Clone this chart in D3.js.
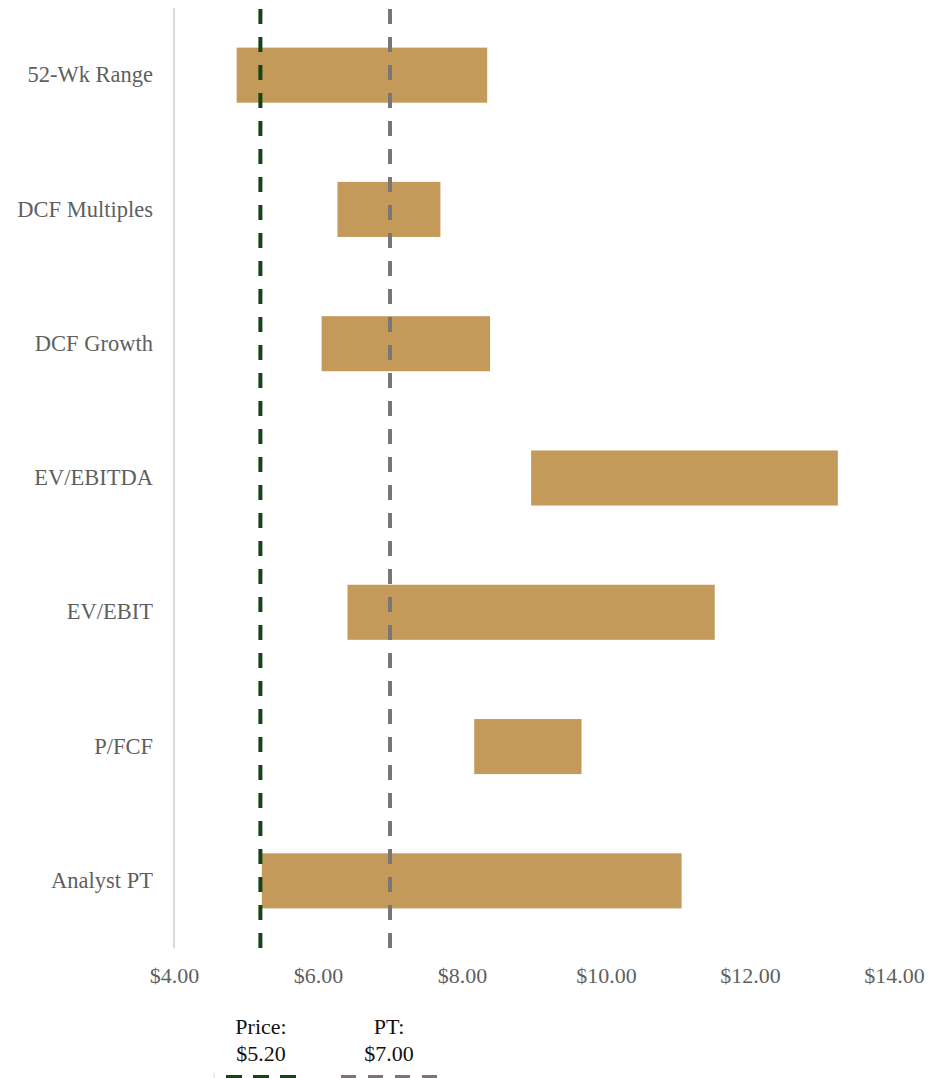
<!DOCTYPE html>
<html>
<head>
<meta charset="utf-8">
<script src="https://cdn.jsdelivr.net/npm/d3@7"></script>
<style>
  html, body { margin: 0; padding: 0; background: #fff; }
  svg { display: block; }
  text { font-family: "Liberation Serif", "Times New Roman", serif; }
</style>
</head>
<body>
<svg id="chart" width="930" height="1078"></svg>
<script>
// Valuation ranges (low / high per method)
const categories = ["52-Wk Range", "DCF Multiples", "DCF Growth", "EV/EBITDA", "EV/EBIT", "P/FCF", "Analyst PT"];
const lowValues  = [4.87, 6.27, 6.05, 8.96, 6.41, 8.17, 5.22];
const highValues = [8.35, 7.70, 8.39, 13.22, 11.51, 9.66, 11.05];

// Reference lines
const currentPrice = 5.20;
const priceTarget = 7.00;

// Axis ticks
const xTicks = [4, 6, 8, 10, 12, 14];

const svg = d3.select("#chart");
const serif = "'Liberation Serif', 'Times New Roman', serif";

const plot = { left: 174, right: 894, top: 8, bottom: 948 };

const x = d3.scaleLinear().domain([4, 14]).range([plot.left, plot.right]);
const y = d3.scaleBand().domain(categories).range([plot.top, plot.bottom]).paddingInner(0.59).paddingOuter(0.295);

const barColor = "#c39a59";
const priceColor = "#174319";
const ptColor = "#7a7676";
const labelColor = "#5f5f5f";

// Bars
svg.append("g").selectAll("rect")
  .data(categories)
  .join("rect")
  .attr("x", (d, i) => x(lowValues[i]))
  .attr("width", (d, i) => x(highValues[i]) - x(lowValues[i]))
  .attr("y", d => y(d))
  .attr("height", y.bandwidth())
  .attr("fill", barColor);

// Left axis line
svg.append("line")
  .attr("x1", plot.left).attr("x2", plot.left)
  .attr("y1", plot.top).attr("y2", plot.bottom)
  .attr("stroke", "#d9d9d9").attr("stroke-width", 2);

// Category labels
const yAxis = d3.axisLeft(y).tickSize(0).tickPadding(21);
const gy = svg.append("g").attr("transform", `translate(${plot.left},0)`).call(yAxis);
gy.attr("font-family", null);
gy.select(".domain").remove();
gy.selectAll("text")
  .attr("fill", labelColor)
  .style("font-size", "22.5px")
  .style("font-family", serif);

// X tick labels
const xAxis = d3.axisBottom(x).tickValues(xTicks).tickSize(0).tickPadding(19).tickFormat(d => "$" + d3.format(".2f")(d));
const gx = svg.append("g").attr("transform", `translate(0,${plot.bottom})`).call(xAxis);
gx.attr("font-family", null);
gx.select(".domain").remove();
gx.selectAll("text")
  .attr("fill", labelColor)
  .style("font-size", "22px")
  .style("font-family", serif);

// Reference dashed lines
function refLine(value, color) {
  svg.append("line")
    .attr("x1", x(value)).attr("x2", x(value))
    .attr("y1", plot.top + 1).attr("y2", plot.bottom)
    .attr("stroke", color)
    .attr("stroke-width", 4)
    .attr("stroke-dasharray", "15 13");
}
refLine(currentPrice, priceColor);
refLine(priceTarget, ptColor);

// Legend
const legend = svg.append("g");
const legendItems = [
  { label: "Price:", value: currentPrice, color: priceColor, cx: 261, x0: 226, x1: 298, dash: "16 11" },
  { label: "PT:", value: priceTarget, color: ptColor, cx: 389, x0: 341, x1: 437, dash: "15 12" }
];
legend.append("line")
  .attr("x1", 214).attr("x2", 214).attr("y1", 1073).attr("y2", 1078)
  .attr("stroke", "#d9d9d9").attr("stroke-width", 1);
legendItems.forEach(it => {
  legend.append("text")
    .attr("x", it.cx).attr("y", 1034)
    .attr("text-anchor", "middle")
    .attr("fill", "#111")
    .style("font-size", "22px")
    .style("font-family", serif)
    .text(it.label);
  legend.append("text")
    .attr("x", it.cx).attr("y", 1061)
    .attr("text-anchor", "middle")
    .attr("fill", "#111")
    .style("font-size", "22px")
    .style("font-family", serif)
    .text("$" + d3.format(".2f")(it.value));
  legend.append("line")
    .attr("x1", it.x0).attr("x2", it.x1)
    .attr("y1", 1077).attr("y2", 1077)
    .attr("stroke", it.color)
    .attr("stroke-width", 4)
    .attr("stroke-dasharray", it.dash);
});
</script>
</body>
</html>
